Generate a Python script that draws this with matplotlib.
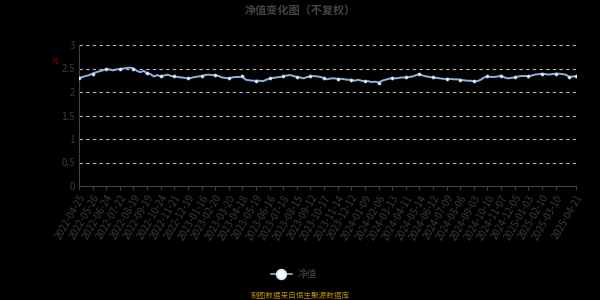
import numpy as np
import matplotlib
matplotlib.use('Agg')
import matplotlib.pyplot as plt
from matplotlib.lines import Line2D

plt.rcParams['font.family'] = ['Noto Sans CJK SC', 'DejaVu Sans']
plt.rcParams['axes.unicode_minus'] = False

# 净值（每5个交易日取一个点）
step = 5
nav = [
    2.30, 2.32, 2.34, 2.36, 2.39, 2.42, 2.44, 2.46,
    2.49, 2.48, 2.46, 2.48, 2.49, 2.50, 2.51, 2.52,
    2.50, 2.45, 2.42, 2.45, 2.40, 2.38, 2.33, 2.36,
    2.33, 2.35, 2.37, 2.34, 2.33, 2.32, 2.31, 2.30,
    2.29, 2.30, 2.32, 2.33, 2.34, 2.36, 2.37, 2.36,
    2.36, 2.34, 2.31, 2.30, 2.29, 2.31, 2.32, 2.32,
    2.33, 2.26, 2.25, 2.24, 2.24, 2.24, 2.23, 2.26,
    2.29, 2.30, 2.31, 2.32, 2.33, 2.35, 2.36, 2.34,
    2.32, 2.31, 2.29, 2.32, 2.33, 2.34, 2.33, 2.32,
    2.29, 2.27, 2.29, 2.29, 2.28, 2.28, 2.27, 2.26,
    2.26, 2.24, 2.26, 2.24, 2.23, 2.23, 2.21, 2.22,
    2.20, 2.24, 2.26, 2.28, 2.30, 2.29, 2.30, 2.31,
    2.31, 2.32, 2.33, 2.36, 2.38, 2.35, 2.33, 2.32,
    2.31, 2.30, 2.29, 2.28, 2.28, 2.28, 2.27, 2.27,
    2.26, 2.25, 2.24, 2.24, 2.23, 2.23, 2.26, 2.31,
    2.33, 2.32, 2.32, 2.33, 2.35, 2.31, 2.29, 2.30,
    2.31, 2.33, 2.34, 2.34, 2.34, 2.35, 2.37, 2.38,
    2.39, 2.38, 2.37, 2.38, 2.39, 2.39, 2.38, 2.37,
    2.32, 2.33, 2.33,
]

tick_labels = [
    '2022-04-25', '2022-05-26', '2022-06-24', '2022-07-22', '2022-08-19',
    '2022-09-19', '2022-10-24', '2022-11-21', '2022-12-19', '2023-01-16',
    '2023-02-20', '2023-03-20', '2023-04-18', '2023-05-19', '2023-06-16',
    '2023-07-18', '2023-08-15', '2023-09-12', '2023-10-17', '2023-11-14',
    '2023-12-12', '2024-01-09', '2024-02-06', '2024-03-13', '2024-04-11',
    '2024-05-14', '2024-06-12', '2024-07-09', '2024-08-06', '2024-09-03',
    '2024-10-10', '2024-11-07', '2024-12-05', '2025-01-03', '2025-02-10',
    '2025-03-10', '2025-04-21',
]

x = np.arange(len(nav)) * step
last = x[-1]
tick_pos = list(np.arange(len(tick_labels) - 1) * 20) + [last]

fig = plt.figure(figsize=(6, 3), dpi=100, facecolor='black')
ax = fig.add_axes([0.1317, 0.38, 0.8283, 0.47])
ax.set_facecolor('black')

line_color = '#8db3e2'
ax.plot(x, nav, color=line_color, linewidth=1.4, zorder=3)
mk = list(range(0, len(nav), 4)) + [len(nav) - 1]
ax.plot(x[mk], np.array(nav)[mk], linestyle='none', marker='o', markersize=2.3,
        markerfacecolor='white', markeredgecolor=line_color, markeredgewidth=0.4, zorder=4)

ax.set_xlim(0, last)
ax.set_ylim(0, 3)
ax.set_yticks([0, 0.5, 1, 1.5, 2, 2.5, 3])
ax.set_yticklabels(['0', '0.5', '1', '1.5', '2', '2.5', '3'])
for v in [0.5, 1, 1.5, 2, 2.5, 3]:
    ax.axhline(v, color='#bbbbbb', linestyle=(0, (3, 3)), linewidth=0.8, zorder=1)

ax.set_xticks(tick_pos)
ax.set_xticklabels(tick_labels, rotation=60, ha='right', rotation_mode='anchor')
ax.tick_params(axis='x', colors='#3a3a3a', labelcolor='#3a3a3a', labelsize=7, length=3, width=0.8, pad=2)
ax.tick_params(axis='y', colors='#3a3a3a', labelcolor='#3a3a3a', labelsize=7, length=0, pad=3)

for side in ['top', 'right']:
    ax.spines[side].set_visible(False)
for side in ['left', 'bottom']:
    ax.spines[side].set_color('#444444')
    ax.spines[side].set_linewidth(0.8)

fig.text(0.5, 0.965, '净值变化图（不复权）', ha='center', va='center',
         color='#444444', fontsize=8, fontweight='bold')
fig.text(0.092, 0.795, '元', ha='center', va='center', color='#8b0000', fontsize=5)

handle = Line2D([0], [0], color=line_color, linewidth=1.2, marker='o', markersize=7,
                markerfacecolor='white', markeredgecolor='#cfe0f5', markeredgewidth=1.2)
leg = fig.legend([handle], ['净值'], loc='center', bbox_to_anchor=(0.49, 0.085),
                 frameon=False, fontsize=7, handlelength=2.2, handletextpad=0.6)
for t in leg.get_texts():
    t.set_color('#444444')

fig.text(0.5, 0.015, '制图数据来自恒生聚源数据库', ha='center', va='center',
         color='#b8860b', fontsize=5.5)

fig.savefig('out.png', dpi=100, facecolor='black')
